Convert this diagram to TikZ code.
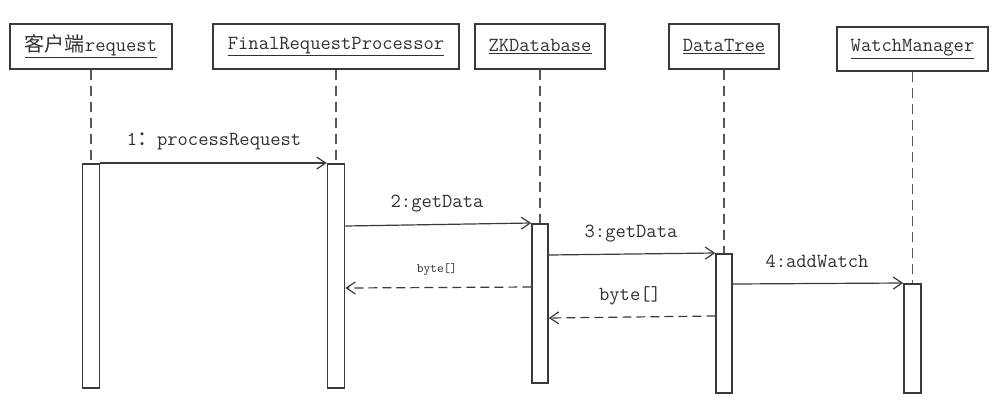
\documentclass[tikz,border=0pt]{standalone}
\usepackage{fontspec}
\newfontfamily\cjk{Noto Sans CJK SC}
\usetikzlibrary{arrows.meta,calc}
\definecolor{ink}{RGB}{58,58,58}
\definecolor{txt}{RGB}{48,48,48}

\begin{document}
\begin{tikzpicture}[x=1pt,y=-1pt,
  objbox/.style={draw=ink, line width=1.6pt, minimum height=45pt, inner sep=0pt,
    text=txt, font=\fontsize{20}{24}\selectfont\ttfamily},
  actbar/.style={draw=ink, line width=1.5pt, minimum width=17pt, inner sep=0pt,
    anchor=north, fill=white},
  lifeline/.style={draw=ink!85, line width=1.4pt, dash pattern=on 10pt off 6pt},
  call/.style={draw=ink, line width=1.2pt,
    -{Straight Barb[length=9pt,width=12pt,line width=1.2pt]}},
  reply/.style={call, dash pattern=on 9pt off 5pt},
  msg/.style={text=txt, font=\fontsize{20}{24}\selectfont\ttfamily, anchor=base, inner sep=0pt},
  smallmsg/.style={msg, font=\fontsize{13}{16}\selectfont\ttfamily},
]
\useasboundingbox (0,0) rectangle (1003,416);

% participants
\node[objbox, minimum width=162pt] (o1) at (91,46.5) {\underline{{\cjk 客户端}request}};
\node[objbox, minimum width=246pt] (o2) at (336,46.5) {\underline{FinalRequestProcessor}};
\node[objbox, minimum width=130pt] (o3) at (540,46.5) {\underline{ZKDatabase}};
\node[objbox, minimum width=110pt] (o4) at (724,46.5) {\underline{DataTree}};
\node[objbox, minimum width=151pt, minimum height=44pt] (o5) at (912.5,49) {\underline{WatchManager}};

% activation bars (positions only, lifelines drawn below them)
\path (91,163)    coordinate (t1);
\path (336,163)   coordinate (t2);
\path (540,223)   coordinate (t3);
\path (724,253)   coordinate (t4);
\path (912.5,283) coordinate (t5);

\draw[lifeline] (o1.south) -- (t1);
\draw[lifeline] (o2.south) -- (t2);
\draw[lifeline] (o3.south) -- (t3);
\draw[lifeline] (o4.south) -- (t4);
\draw[lifeline] (o5.south) -- (t5);

\node[actbar, minimum height=224pt] (a1) at (t1) {};
\node[actbar, minimum height=224pt] (a2) at (t2) {};
\node[actbar, minimum height=159pt, minimum width=16pt] (a3) at (t3) {};
\node[actbar, minimum height=139pt, minimum width=16pt] (a4) at (t4) {};
\node[actbar, minimum height=109pt] (a5) at (t5) {};

% message end points on the bars
\coordinate (m2s) at ($(a2.north east)+(0,63)$);
\coordinate (r1s) at ($(a3.north west)+(0,64)$);
\coordinate (r1e) at ($(a2.north east)+(0,125)$);
\coordinate (m3s) at ($(a3.north east)+(0,32)$);
\coordinate (r2s) at ($(a4.north west)+(0,63)$);
\coordinate (r2e) at ($(a3.north east)+(0,95)$);
\coordinate (m4s) at ($(a4.north east)+(0,31)$);

% messages
\draw[call]  (a1.north east) -- (a2.north west);
\draw[call]  (m2s) -- (a3.north west);
\draw[reply] (r1s) -- (r1e);
\draw[call]  (m3s) -- (a4.north west);
\draw[reply] (r2s) -- (r2e);
\draw[call]  (m4s) -- (a5.north west);

% message labels
\node[msg] (l1) at (214,145) {1{\cjk ：}processRequest};
\node[msg] (l2) at (437,207) {2:getData};
\node[smallmsg] (l3) at (437,272) {byte[]};
\node[msg] (l4) at (631,237) {3:getData};
\node[msg] (l5) at (630,300) {byte[]};
\node[msg] (l6) at (817,267) {4:addWatch};
\end{tikzpicture}
\end{document}
